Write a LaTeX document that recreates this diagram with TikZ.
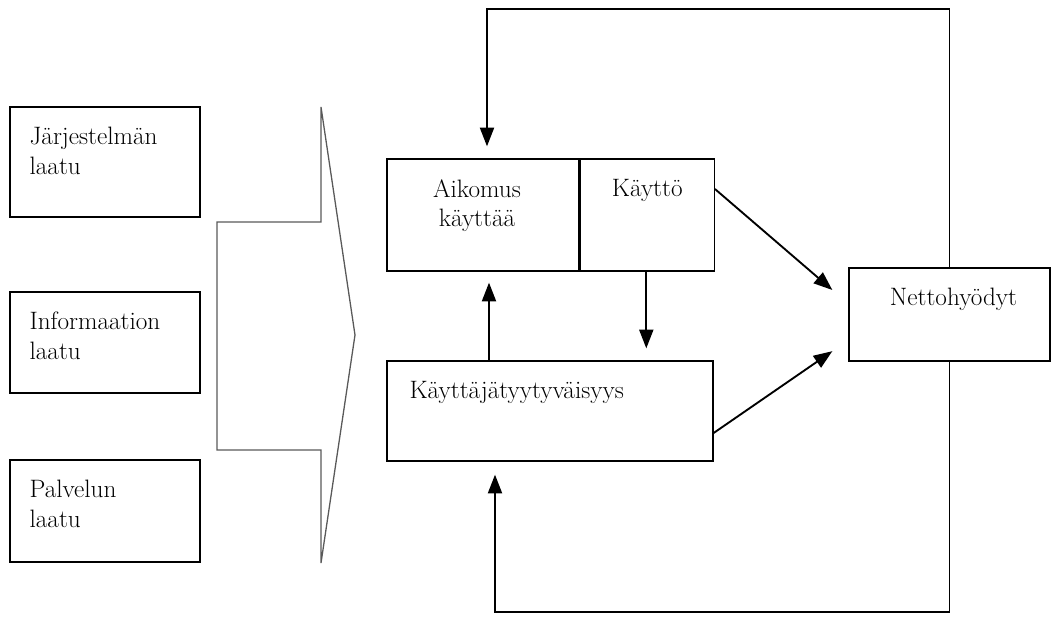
\documentclass[tikz,border=0pt]{standalone}
\usetikzlibrary{arrows.meta,positioning}
\begin{document}
\begin{tikzpicture}[x=0.03cm,y=-0.03cm,inner sep=0pt]
  \fontsize{21.5}{25.5}\selectfont
  \useasboundingbox (0,0) rectangle (1052,619);
  \tikzstyle{b}=[draw,line width=1.1pt,rectangle]
  \tikzstyle{lt}=[anchor=north west,align=left,xshift=0.6cm,yshift=-0.62cm]
  \tikzstyle{ct}=[anchor=north,align=center,yshift=-0.62cm]
  \node[b,minimum width=5.7cm,minimum height=3.3cm,label={[lt]north west:Järjestelmän\\laatu}](jarj)at(105,162){};
  \node[b,minimum width=5.7cm,minimum height=3.03cm,label={[lt]north west:Informaation\\laatu}](info)at(105,342.5){};
  \node[b,minimum width=5.7cm,minimum height=3.06cm,label={[lt]north west:Palvelun\\laatu}](palv)at(105,511){};
  \node[b,minimum width=5.76cm,minimum height=3.36cm,label={[ct,xshift=-0.18cm]north:Aikomus\\käyttää}](aik)at(483,215){};
  \node[b,minimum width=4.02cm,minimum height=3.36cm,right=0pt of aik,label={[ct]north:Käyttö}](kaytto){};
  \node[b,minimum width=9.78cm,minimum height=3.0cm,label={[lt,xshift=0.09cm]north west:Käyttäjätyytyväisyys}](tyyt)at(550,411){};
  \node[b,minimum width=6.03cm,minimum height=2.79cm,label={[ct,xshift=0.12cm]north:Nettohyödyt}](netto)at(949.5,314.5){};
  % laatutekijat yhteen
  \draw[black!65,line width=1.1pt](217,222)--(321,222)--(321,107)--(355,335)--(321,563)--(321,450)--(217,450)--cycle;
  \tikzstyle{e}=[-{Triangle[length=16pt,width=12pt]},line width=1.6pt]
  \coordinate(yla)at(487,9);
  \coordinate(ala)at(495,612);
  \path(aik.south)++(6,0)coordinate(p1);
  \path(kaytto.south)++(-1,0)coordinate(p2);
  \draw[e,shorten >=0.36cm](netto.north)|-(yla)--(yla|-aik.north);
  \draw[e,shorten >=0.39cm](netto.south)|-(ala)--(ala|-tyyt.south);
  \draw[e,shorten >=0.33cm](p1|-tyyt.north)--(p1);
  \draw[e,shorten >=0.36cm](p2)--(p2|-tyyt.north);
  \draw[e]([yshift=0.78cm]kaytto.east)--([xshift=-0.48cm,yshift=0.735cm]netto.west);
  \draw[e]([yshift=-0.66cm]tyyt.east)--([xshift=-0.48cm,yshift=-1.1cm]netto.west);
\end{tikzpicture}
\end{document}
